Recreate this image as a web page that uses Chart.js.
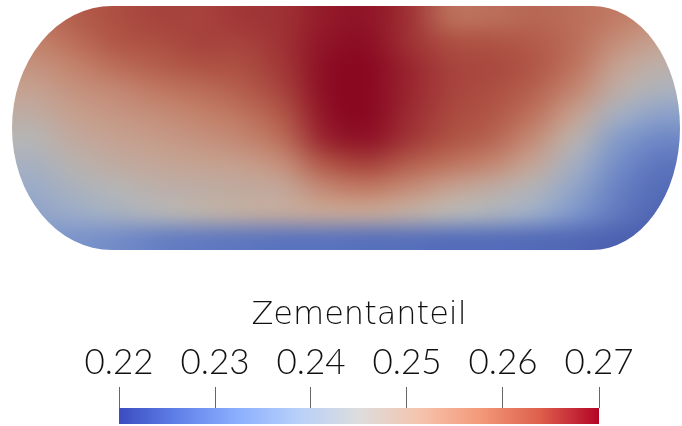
<!DOCTYPE html>
<html>
<head>
<meta charset="utf-8">
<script src="https://cdn.jsdelivr.net/npm/chart.js@4.4.1/dist/chart.umd.min.js"></script>
<style>
  html, body { margin: 0; padding: 0; background: #fff; }
  #wrap { position: relative; width: 682px; height: 426px; }
  #field { position: absolute; left: 0; top: 0; width: 682px; height: 260px; }
  #bar { position: absolute; left: 0; top: 270px; width: 682px; height: 156px; }
</style>
</head>
<body>
<div id="wrap">
  <div id="field"><canvas id="fieldChart"></canvas></div>
  <div id="bar"><canvas id="barChart"></canvas></div>
</div>
<script>
// column positions along the body (left -> right)
const columns = ["c1", "c2", "c3", "c4", "c5", "c6", "c7", "c8", "c9", "c10", "c11", "c12", "c13", "c14", "c15", "c16"]

// Zementanteil, one array per row, top row first
const row1 = [0.259, 0.262, 0.264, 0.265, 0.265, 0.266, 0.2665, 0.2685, 0.269, 0.2665, 0.260, 0.260, 0.261, 0.260, 0.258, 0.255]
const row2 = [0.257, 0.260, 0.263, 0.264, 0.265, 0.265, 0.2665, 0.269, 0.2695, 0.2665, 0.264, 0.2635, 0.2625, 0.260, 0.255, 0.251]
const row3 = [0.254, 0.257, 0.260, 0.262, 0.2635, 0.264, 0.266, 0.2695, 0.270, 0.2675, 0.265, 0.2645, 0.263, 0.259, 0.251, 0.247]
const row4 = [0.251, 0.254, 0.256, 0.2585, 0.260, 0.262, 0.265, 0.2695, 0.270, 0.2675, 0.265, 0.264, 0.2615, 0.256, 0.2475, 0.2425]
const row5 = [0.248, 0.2515, 0.2535, 0.255, 0.257, 0.259, 0.263, 0.269, 0.270, 0.267, 0.2645, 0.263, 0.259, 0.251, 0.241, 0.236]
const row6 = [0.245, 0.249, 0.251, 0.2525, 0.254, 0.256, 0.260, 0.2675, 0.269, 0.266, 0.2635, 0.261, 0.255, 0.246, 0.235, 0.231]
const row7 = [0.242, 0.246, 0.2485, 0.250, 0.251, 0.252, 0.255, 0.263, 0.265, 0.262, 0.259, 0.256, 0.250, 0.241, 0.232, 0.228]
const row8 = [0.239, 0.2425, 0.245, 0.247, 0.248, 0.249, 0.250, 0.256, 0.258, 0.255, 0.251, 0.248, 0.244, 0.237, 0.230, 0.2265]
const row9 = [0.237, 0.239, 0.2415, 0.244, 0.2465, 0.248, 0.249, 0.250, 0.250, 0.248, 0.245, 0.2425, 0.239, 0.2335, 0.2285, 0.2255]
const row10 = [0.234, 0.2335, 0.232, 0.230, 0.229, 0.2285, 0.228, 0.228, 0.2275, 0.2275, 0.227, 0.227, 0.2265, 0.226, 0.225, 0.2245]
const rows = [row1, row2, row3, row4, row5, row6, row7, row8, row9, row10]

// colour bar range and ticks
const rangeMin = 0.22
const rangeMax = 0.27
const tickValues = [0.22, 0.23, 0.24, 0.25, 0.26, 0.27]
const barTitle = "Zementanteil"

// cool to warm
const cmap = [
  [0, [59, 76, 192]],
  [0.125, [98, 130, 234]],
  [0.25, [141, 176, 254]],
  [0.375, [184, 208, 249]],
  [0.5, [221, 221, 221]],
  [0.625, [245, 196, 173]],
  [0.75, [244, 154, 123]],
  [0.875, [222, 96, 77]],
  [1, [180, 4, 38]],
]

function lookup(t) {
  t = Math.max(0, Math.min(1, t))
  for (let i = 1; i < cmap.length; i++) {
    if (t <= cmap[i][0]) {
      const [t0, a] = cmap[i - 1]
      const [t1, b] = cmap[i]
      const f = (t - t0) / (t1 - t0)
      return a.map((v, k) => v + (b[k] - v) * f)
    }
  }
  return cmap[cmap.length - 1][1]
}

// surface is lit, so a bit darker and duller than the bar
const shade = 0.82
const sat = 0.9
function fieldColor(v) {
  const c = lookup((v - rangeMin) / (rangeMax - rangeMin))
  const lum = 0.3 * c[0] + 0.59 * c[1] + 0.11 * c[2]
  const out = c.map((x) => Math.round((lum + (x - lum) * sat) * shade))
  return "rgb(" + out.join(",") + ")"
}

function stadiumPath(ctx, area, fresh) {
  const L = area.left, R = area.right, T = area.top, B = area.bottom
  const cy = (T + B) / 2, ry = (B - T) / 2
  const rxL = 100, rxR = 88
  if (fresh) ctx.beginPath()
  ctx.moveTo(L + rxL, T)
  ctx.lineTo(R - rxR, T)
  ctx.ellipse(R - rxR, cy, rxR, ry, 0, -Math.PI / 2, Math.PI / 2)
  ctx.lineTo(L + rxL, B)
  ctx.ellipse(L + rxL, cy, rxL, ry, 0, Math.PI / 2, Math.PI * 1.5)
  ctx.closePath()
}

// smooth the cell grid the library drew: sample each cell centre,
// then stretch that small image back over the area
const smoothSurface = {
  id: "smoothSurface",
  afterDatasetsDraw(chart) {
    const { ctx, chartArea: a, canvas } = chart
    const dpr = chart.currentDevicePixelRatio
    const nc = chart.data.labels.length
    const nr = chart.data.datasets.length
    const off = document.createElement("canvas")
    off.width = nc
    off.height = nr
    const octx = off.getContext("2d")
    chart.data.datasets.forEach((d, r) => {
      chart.getDatasetMeta(r).data.forEach((el, c) => {
        const cx = el.x
        const cy = (el.y + el.base) / 2
        octx.drawImage(canvas, Math.round(cx * dpr), Math.round(cy * dpr), 1, 1, c, r, 1, 1)
      })
    })
    ctx.save()
    stadiumPath(ctx, a, true)
    ctx.clip()
    ctx.imageSmoothingEnabled = true
    ctx.imageSmoothingQuality = "high"
    ctx.drawImage(off, 0, 0, nc, nr, a.left, a.top, a.width, a.height)
    ctx.restore()
    ctx.save()
    ctx.beginPath()
    ctx.rect(0, 0, chart.width, chart.height)
    stadiumPath(ctx, a, false)
    ctx.fillStyle = "#fff"
    ctx.fill("evenodd")
    ctx.restore()
  },
}

const nRows = rows.length
const fieldSets = rows.map((vals, r) => ({
  data: vals.map(() => [nRows - r - 1, nRows - r]),
  backgroundColor: vals.map(fieldColor),
  borderWidth: 0,
  grouped: false,
  barPercentage: 1,
  categoryPercentage: 1,
}))

new Chart(document.getElementById("fieldChart"), {
  type: "bar",
  data: { labels: columns, datasets: fieldSets },
  options: {
    responsive: true,
    maintainAspectRatio: false,
    animation: false,
    layout: { padding: { left: 12, right: 2, top: 6, bottom: 10 } },
    plugins: { legend: { display: false }, tooltip: { enabled: false } },
    scales: {
      x: { display: false },
      y: { display: false, min: 0, max: nRows },
    },
  },
  plugins: [smoothSurface],
})

new Chart(document.getElementById("barChart"), {
  type: "bar",
  data: {
    labels: [barTitle],
    datasets: [
      {
        data: [[rangeMin, rangeMax]],
        backgroundColor: (c) => {
          const area = c.chart.chartArea
          if (!area) return "#ddd"
          const g = c.chart.ctx.createLinearGradient(area.left, 0, area.right, 0)
          cmap.forEach(([t, rgb]) => g.addColorStop(t, "rgb(" + rgb.join(",") + ")"))
          return g
        },
        borderWidth: 0,
        barPercentage: 1,
        categoryPercentage: 1,
      },
    ],
  },
  options: {
    indexAxis: "y",
    responsive: true,
    maintainAspectRatio: false,
    animation: false,
    layout: { padding: { left: 119, right: 83, top: 26, bottom: 2 } },
    plugins: { legend: { display: false }, tooltip: { enabled: false } },
    scales: {
      x: {
        type: "linear",
        position: "top",
        min: rangeMin,
        max: rangeMax,
        afterBuildTicks: (axis) => {
          axis.ticks = tickValues.map((v) => ({ value: v }))
        },
        afterFit: (axis) => {
          axis.height = 112
        },
        ticks: {
          color: "#111",
          font: { family: "Lato", size: 35, weight: "300" },
          padding: 3,
          maxRotation: 0,
          autoSkip: false,
          callback: (v) => v.toFixed(2),
        },
        grid: { drawOnChartArea: false, drawTicks: true, tickLength: 21, color: "#666" },
        border: { display: false },
        title: {
          display: true,
          text: barTitle,
          color: "#111",
          font: { family: "DejaVu Sans", size: 32, weight: "200" },
          padding: { top: 0, bottom: 2 },
        },
      },
      y: { display: false },
    },
  },
})
</script>
</body>
</html>
